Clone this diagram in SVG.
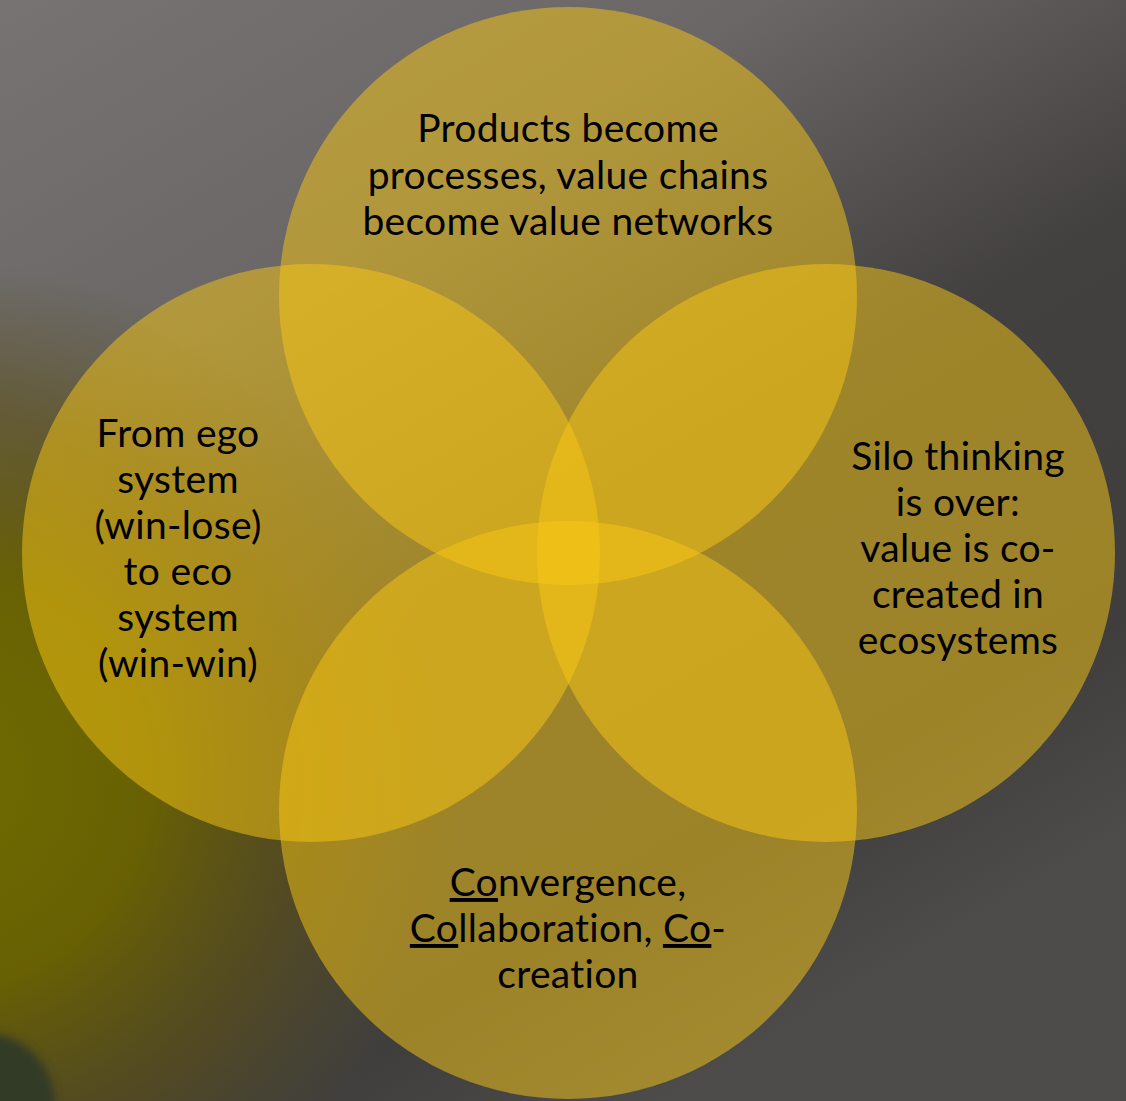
<svg xmlns="http://www.w3.org/2000/svg" width="1126" height="1101" viewBox="0 0 1126 1101">
  <defs>
    <linearGradient id="bg" x1="0" y1="0" x2="0.6" y2="1">
      <stop offset="0" stop-color="#777372"/>
      <stop offset="0.3" stop-color="#6a6766"/>
      <stop offset="0.58" stop-color="#434140"/>
      <stop offset="0.85" stop-color="#3f3e3d"/>
      <stop offset="1" stop-color="#4e4c4b"/>
    </linearGradient>
    <radialGradient id="olive" cx="-60" cy="780" r="520" gradientUnits="userSpaceOnUse">
      <stop offset="0" stop-color="#706c00" stop-opacity="1"/>
      <stop offset="0.4" stop-color="#6a6200" stop-opacity="0.95"/>
      <stop offset="0.72" stop-color="#5e5010" stop-opacity="0.55"/>
      <stop offset="1" stop-color="#5a5020" stop-opacity="0"/>
    </radialGradient>
    <filter id="blur" x="-50%" y="-50%" width="200%" height="200%">
      <feGaussianBlur stdDeviation="5"/>
    </filter>
    <style>
      .c { fill: rgb(250,200,20); fill-opacity: 0.5; }
      .t { font-family: Lato, "Open Sans", sans-serif; font-size: 39px; letter-spacing: 0.3px; font-variant-ligatures: none; fill: #000; text-anchor: middle; }
      .u { text-decoration: underline; }
    </style>
  </defs>
  <rect x="0" y="0" width="1126" height="1101" fill="url(#bg)"/>
  <rect x="0" y="0" width="1126" height="1101" fill="url(#olive)"/>
  <ellipse cx="-15" cy="1105" rx="70" ry="72" fill="#323a26" filter="url(#blur)"/>

  <g id="node-top">
    <circle class="c" cx="568" cy="296" r="289"/>
    <text class="t" x="568" y="142">Products become</text>
    <text class="t" x="568" y="189">processes, value chains</text>
    <text class="t" x="568" y="235">become value networks</text>
  </g>
  <g id="node-left">
    <circle class="c" cx="311" cy="553" r="289"/>
    <text class="t" x="178" y="447">From ego</text>
    <text class="t" x="178" y="493">system</text>
    <text class="t" x="178" y="539">(win-lose)</text>
    <text class="t" x="178" y="585">to eco</text>
    <text class="t" x="178" y="631">system</text>
    <text class="t" x="178" y="677">(win-win)</text>
  </g>
  <g id="node-right">
    <circle class="c" cx="826" cy="553" r="289"/>
    <text class="t" x="958" y="470">Silo thinking</text>
    <text class="t" x="958" y="516">is over:</text>
    <text class="t" x="958" y="562">value is co-</text>
    <text class="t" x="958" y="608">created in</text>
    <text class="t" x="958" y="654">ecosystems</text>
  </g>
  <g id="node-bottom">
    <circle class="c" cx="568" cy="810" r="289"/>
    <text class="t" x="568" y="896"><tspan class="u">Co</tspan>nvergence,</text>
    <text class="t" x="568" y="942"><tspan class="u">Co</tspan>llaboration, <tspan class="u">Co</tspan>-</text>
    <text class="t" x="568" y="988">creation</text>
  </g>
  <g id="connectors"/>
</svg>
